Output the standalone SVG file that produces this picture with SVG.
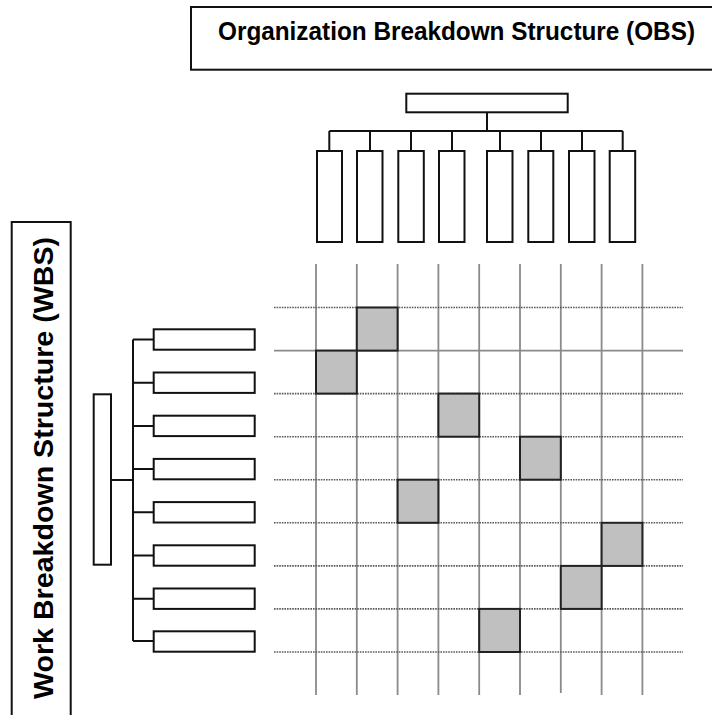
<svg xmlns="http://www.w3.org/2000/svg" width="712" height="715" viewBox="0 0 712 715">
<style>
.box{fill:#fff;stroke:#111;stroke-width:2}
.conn{stroke:#111;stroke-width:2;fill:none}
.vgrid{stroke:#8a8a8a;stroke-width:1.8}
.hsolid{stroke:#8a8a8a;stroke-width:1.8}
.hdot{stroke:#5a5a5a;stroke-width:1.6;stroke-dasharray:1.6 1}
.cell{fill:#c0c0c0;stroke:#222;stroke-width:2}
.title{font-family:"Liberation Sans",Arial,sans-serif;font-weight:bold;fill:#000}
</style>
<rect width="712" height="715" fill="#fff"/>

<g id="obs-title">
<rect class="box" x="191" y="7" width="600" height="62.7"/>
<text class="title" x="218" y="39.5" font-size="26.5" textLength="477" lengthAdjust="spacingAndGlyphs">Organization Breakdown Structure (OBS)</text>
</g>

<g id="wbs-title">
<rect class="box" x="11.7" y="222" width="59" height="600"/>
<text class="title" transform="translate(52.5,699) rotate(-90)" x="0" y="0" font-size="27" textLength="462" lengthAdjust="spacingAndGlyphs">Work Breakdown Structure (WBS)</text>
</g>

<g id="grid">
<g class="vgrid">
<line x1="316" y1="264" x2="316" y2="695"/>
<line x1="356.8" y1="264" x2="356.8" y2="695"/>
<line x1="397.6" y1="264" x2="397.6" y2="695"/>
<line x1="438.4" y1="264" x2="438.4" y2="695"/>
<line x1="479.2" y1="264" x2="479.2" y2="695"/>
<line x1="520" y1="264" x2="520" y2="695"/>
<line x1="560.8" y1="264" x2="560.8" y2="693"/>
<line x1="601.6" y1="264" x2="601.6" y2="695"/>
<line x1="642.4" y1="264" x2="642.4" y2="695"/>
</g>
<line class="hsolid" x1="274" y1="350.6" x2="683" y2="350.6"/>
<g class="hdot">
<line x1="274" y1="307.5" x2="683" y2="307.5"/>
<line x1="274" y1="393.6" x2="683" y2="393.6"/>
<line x1="274" y1="436.7" x2="683" y2="436.7"/>
<line x1="274" y1="479.7" x2="683" y2="479.7"/>
<line x1="274" y1="522.8" x2="683" y2="522.8"/>
<line x1="274" y1="565.9" x2="683" y2="565.9"/>
<line x1="274" y1="608.9" x2="683" y2="608.9"/>
<line x1="274" y1="652" x2="683" y2="652"/>
</g>
</g>

<g id="cells">
<rect class="cell" x="356.8" y="307.5" width="40.8" height="43.1"/>
<rect class="cell" x="316" y="350.6" width="40.8" height="43"/>
<rect class="cell" x="438.4" y="393.6" width="40.8" height="43.1"/>
<rect class="cell" x="520" y="436.7" width="40.8" height="43"/>
<rect class="cell" x="397.6" y="479.7" width="40.8" height="43.1"/>
<rect class="cell" x="601.6" y="522.8" width="40.8" height="43.1"/>
<rect class="cell" x="560.8" y="565.9" width="40.8" height="43"/>
<rect class="cell" x="479.2" y="608.9" width="40.8" height="43.1"/>
</g>

<g id="connectors">
<path class="conn" d="M487,113 V131 M329.3,131 H622.7 M329.3,131 V150 M370,131 V150 M411,131 V150 M452,131 V150 M500,131 V150 M541,131 V150 M582,131 V150 M622.7,131 V150"/>
<path class="conn" d="M112,480 H133 M133,339.5 V641 M133,339.5 H153 M133,382.7 H153 M133,425.9 H153 M133,469.1 H153 M133,512.3 H153 M133,555.5 H153 M133,598.7 H153 M133,641 H153"/>
</g>

<g id="obs-root"><rect class="box" x="406.3" y="93.7" width="161.4" height="18.6"/></g>
<g id="obs-1"><rect class="box" x="317" y="151" width="25" height="91"/></g>
<g id="obs-2"><rect class="box" x="357" y="151" width="25.5" height="91"/></g>
<g id="obs-3"><rect class="box" x="398.3" y="151" width="25.5" height="91"/></g>
<g id="obs-4"><rect class="box" x="439" y="151" width="25.5" height="91"/></g>
<g id="obs-5"><rect class="box" x="487" y="151" width="25.5" height="91"/></g>
<g id="obs-6"><rect class="box" x="528.3" y="151" width="25" height="91"/></g>
<g id="obs-7"><rect class="box" x="569" y="151" width="25.5" height="91"/></g>
<g id="obs-8"><rect class="box" x="609.7" y="151" width="25.5" height="91"/></g>

<g id="wbs-root"><rect class="box" x="93.7" y="394.3" width="17.3" height="170.4"/></g>
<g id="wbs-1"><rect class="box" x="153.7" y="329.3" width="101" height="20.4"/></g>
<g id="wbs-2"><rect class="box" x="153.7" y="372.5" width="101" height="20.4"/></g>
<g id="wbs-3"><rect class="box" x="153.7" y="415.7" width="101" height="20.4"/></g>
<g id="wbs-4"><rect class="box" x="153.7" y="458.9" width="101" height="20.4"/></g>
<g id="wbs-5"><rect class="box" x="153.7" y="502.1" width="101" height="20.4"/></g>
<g id="wbs-6"><rect class="box" x="153.7" y="545.3" width="101" height="20.4"/></g>
<g id="wbs-7"><rect class="box" x="153.7" y="588.5" width="101" height="20.4"/></g>
<g id="wbs-8"><rect class="box" x="153.7" y="631.3" width="101" height="20.4"/></g>
</svg>
